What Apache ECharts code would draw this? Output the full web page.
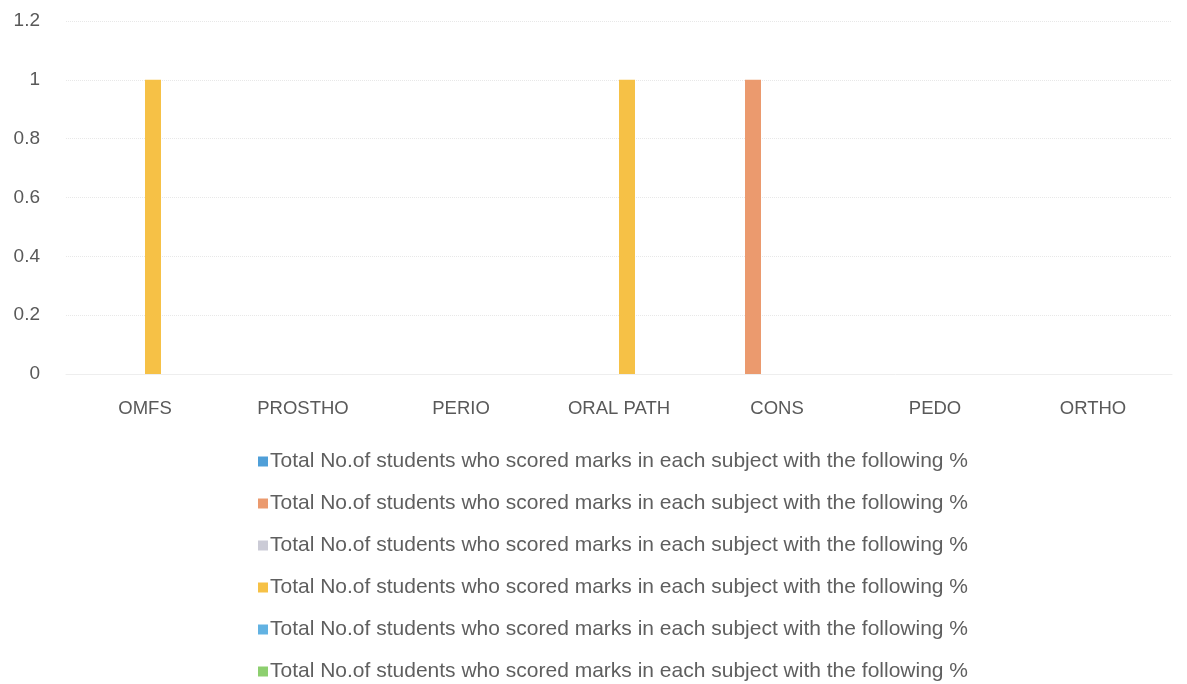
<!DOCTYPE html>
<html>
<head>
<meta charset="utf-8">
<script src="https://cdn.jsdelivr.net/npm/echarts@6/dist/echarts.min.js"></script>
<style>
  html, body { margin: 0; padding: 0; background: #fff; }
  #chart { width: 1187px; height: 684px; }
</style>
</head>
<body>
<div id="chart"></div>
<script>
// Subjects on the x axis
const categories = ['OMFS', 'PROSTHO', 'PERIO', 'ORAL PATH', 'CONS', 'PEDO', 'ORTHO'];

// Series label (all six series share the same caption)
const seriesLabel = 'Total No.of students who scored marks in each subject with the following %';

// Values per series, one per subject
const series1 = [0, 0, 0, 0, 0, 0, 0];
const series2 = [0, 0, 0, 0, 1, 0, 0];
const series3 = [0, 0, 0, 0, 0, 0, 0];
const series4 = [1, 0, 0, 1, 0, 0, 0];
const series5 = [0, 0, 0, 0, 0, 0, 0];
const series6 = [0, 0, 0, 0, 0, 0, 0];

// Y axis range
const yMin = 0;
const yMax = 1.2;
const yStep = 0.2;

const allSeries = [series1, series2, series3, series4, series5, series6];
const colors = ['#4f9fd8', '#eb9a6e', '#cbcbd6', '#f6c146', '#62b2e2', '#8dcf6f'];

// identical captions get a distinct (invisible) suffix so each gets its own legend row
const names = allSeries.map((_, i) => seriesLabel + '\u200b'.repeat(i));

const chart = echarts.init(document.getElementById('chart'));
chart.setOption({
  backgroundColor: '#ffffff',
  animation: false,
  color: colors,
  grid: { left: 66, right: 15, top: 21, bottom: 310, containLabel: false },
  xAxis: {
    type: 'category',
    data: categories,
    axisLine: { show: true, lineStyle: { color: '#eeeeee' } },
    axisTick: { show: false },
    axisLabel: {
      color: '#595959',
      fontFamily: 'Liberation Sans, Arial, sans-serif',
      fontSize: 18.5,
      margin: 25
    }
  },
  yAxis: {
    type: 'value',
    min: yMin,
    max: yMax,
    interval: yStep,
    axisLine: { show: false },
    axisTick: { show: false },
    splitLine: { lineStyle: { color: '#e8e8e8', type: 'dotted', width: 1 } },
    axisLabel: {
      color: '#595959',
      fontFamily: 'Liberation Sans, Arial, sans-serif',
      fontSize: 19,
      margin: 26,
      formatter: v => String(Math.round(v * 10) / 10)
    }
  },
  legend: {
    orient: 'vertical',
    left: 253,
    top: 446,
    height: 240,
    itemWidth: 10,
    itemHeight: 10,
    itemGap: 21,
    icon: 'rect',
    textStyle: {
      color: '#5f5f5f',
      fontFamily: 'Liberation Sans, Arial, sans-serif',
      fontSize: 21,
      lineHeight: 21,
      padding: [0, 0, 0, -3]
    },
    data: names
  },
  series: allSeries.map((vals, i) => ({
    name: names[i],
    type: 'bar',
    data: vals,
    barWidth: 16,
    barGap: '0%',
    itemStyle: { color: colors[i] }
  }))
});
</script>
</body>
</html>
